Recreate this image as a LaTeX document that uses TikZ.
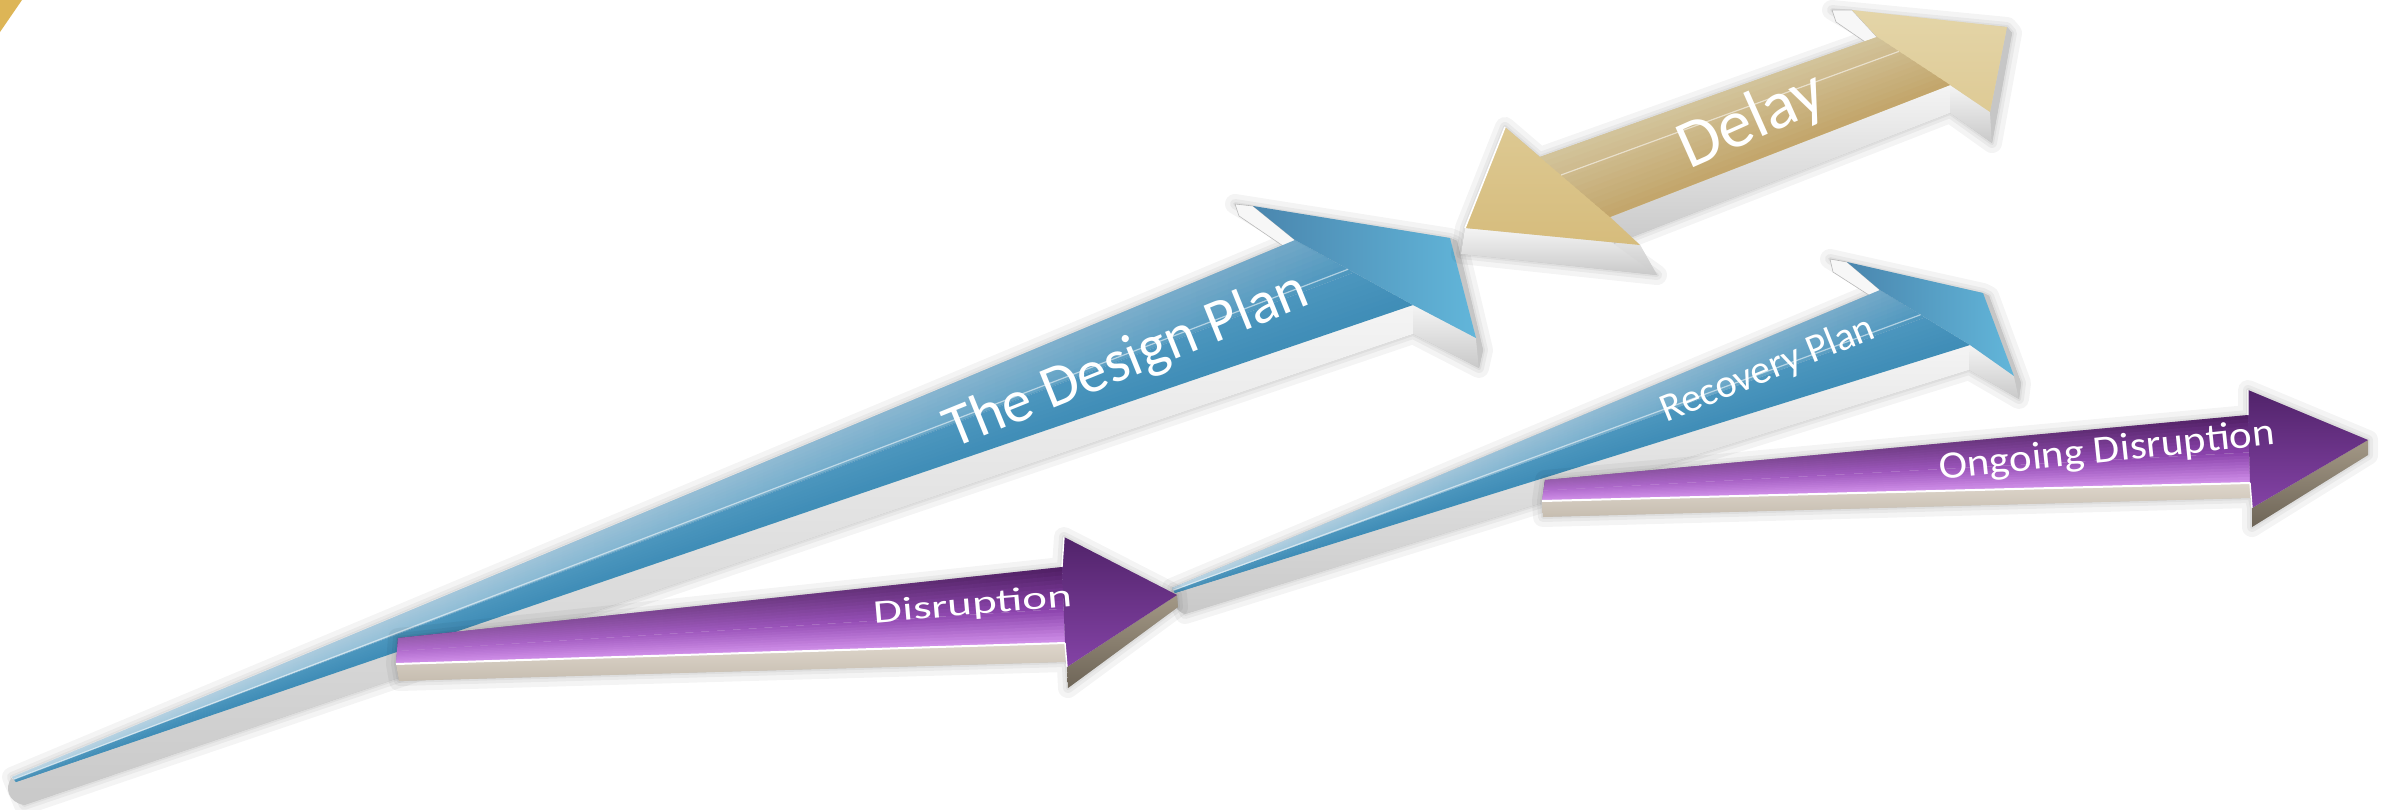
\documentclass[tikz,border=0pt]{standalone}
\usepackage{fontspec}
\setmainfont{Carlito}
\usetikzlibrary{calc,fadings}

\definecolor{bTop}{HTML}{6FA6C6}
\definecolor{bMid}{HTML}{4C96BE}
\definecolor{bBot}{HTML}{3F8DB7}
\definecolor{bHeadA}{HTML}{4A86AE}
\definecolor{bHeadB}{HTML}{62B6DA}
\definecolor{sideA}{HTML}{F4F4F4}
\definecolor{sideB}{HTML}{C9C9C9}
\definecolor{gTop}{HTML}{D3C49C}
\definecolor{gBot}{HTML}{C2A56A}
\definecolor{gLight}{HTML}{E4D5A8}
\definecolor{gDark}{HTML}{D6BC7C}
\definecolor{gCorner}{HTML}{DDB556}
\definecolor{pDark}{HTML}{4E1E62}
\definecolor{pMid}{HTML}{8A42AC}
\definecolor{pLight}{HTML}{D291EA}
\definecolor{pHeadA}{HTML}{51236A}
\definecolor{pHeadB}{HTML}{8443A6}
\definecolor{beigeA}{HTML}{DED6CB}
\definecolor{beigeB}{HTML}{C6BDB0}
\definecolor{taupeA}{HTML}{A39886}
\definecolor{taupeB}{HTML}{6E6557}

\tikzset{
  lbl/.style={text=white, inner sep=0pt, anchor=center},
  sidegray/.style={top color=sideA, bottom color=sideB},
  beigeside/.style={top color=beigeA, bottom color=beigeB},
  taupeside/.style={top color=taupeA, bottom color=taupeB},
  rim/.style={fill=gray!45},
  backface/.style={fill=white!94!gray, draw=gray!55, line width=0.3pt},
  hiline/.style={white, opacity=0.55, line width=0.6pt},
}

% cross-gradient bands between edge U0-U1 and edge L0-L1
\newcommand{\bandfill}[7]{%
  \foreach \k in {1,...,#7}{%
    \pgfmathsetmacro{\ta}{(\k-1)/#7}%
    \pgfmathsetmacro{\tb}{min(1,(\k+0.5)/#7)}%
    \pgfmathtruncatemacro{\pc}{round(100-100*(\k-0.5)/#7)}%
    \fill[#5!\pc!#6] ($(#1)!\ta!(#3)$) -- ($(#2)!\ta!(#4)$) -- ($(#2)!\tb!(#4)$) -- ($(#1)!\tb!(#3)$) -- cycle;
  }}

\newcommand{\softshadow}[2]{%
  \begin{scope}[shift={#1}]
    \foreach \w in {10,5,2}{%
      \filldraw[black, opacity=0.045, line width=\w*1pt, line join=round] #2;
    }
  \end{scope}}

\begin{document}
\begin{tikzpicture}[x=0.5pt,y=-0.5pt]
\useasboundingbox (0,0) rectangle (2384,809);
\fill[white] (0,0) rectangle (2384,809);

% ---------------- coordinates ----------------
% Design Plan
\coordinate (dT) at (12,777);
\coordinate (dTl) at (16,782);
\coordinate (dNu) at (1295,240);
\coordinate (dBu) at (1253,206);
\coordinate (dBw) at (1235,204);
\coordinate (dTip) at (1450,238);
\coordinate (dTipS) at (1457,241);
\coordinate (dBl) at (1476,338);
\coordinate (dBlr) at (1483,350);
\coordinate (dNl) at (1413,305);
\coordinate (dNls) at (1413,334);
\coordinate (dBls) at (1479,368);
\coordinate (dTs) at (24,805);
\coordinate (dBk) at (1289,250);
\coordinate (dBk2) at (1239,216);
\coordinate (dM0) at ($(dT)!0.5!(dTl)$);
\coordinate (dM1) at ($(dNu)!0.5!(dNl)$);
% Recovery Plan
\coordinate (rT) at (1172,588);
\coordinate (rTl) at (1175,593);
\coordinate (rNu) at (1880,290);
\coordinate (rBu) at (1847,262);
\coordinate (rBw) at (1830,259);
\coordinate (rTip) at (1983,293);
\coordinate (rTipS) at (1989,296);
\coordinate (rBl) at (2014,376);
\coordinate (rBlr) at (2021,383);
\coordinate (rNl) at (1970,345);
\coordinate (rNls) at (1969,370);
\coordinate (rBls) at (2019,399);
\coordinate (rTs) at (1185,614);
\coordinate (rBk) at (1875,299);
\coordinate (rBk2) at (1833,272);
\coordinate (rM0) at ($(rT)!0.5!(rTl)$);
\coordinate (rM1) at ($(rNu)!0.5!(rNl)$);
% Delay
\coordinate (yL) at (1465,228);
\coordinate (yLs) at (1461,254);
\coordinate (yBu1) at (1505,127);
\coordinate (yNu1) at (1540,157);
\coordinate (yNu2) at (1877,37);
\coordinate (yBu2) at (1852,10);
\coordinate (yBw2) at (1832,10);
\coordinate (yR) at (2007,27);
\coordinate (yRs) at (2012,33);
\coordinate (yBl2) at (1990,112);
\coordinate (yBl2s) at (1992,143);
\coordinate (yNl2) at (1950,85);
\coordinate (yNl2s) at (1950,113);
\coordinate (yNl1) at (1610,217);
\coordinate (yNl1s) at (1614,244);
\coordinate (yBl1) at (1640,245);
\coordinate (yBl1s) at (1657,275);
\coordinate (yBk) at (1871,46);
\coordinate (yBk2) at (1836,22);
% Disruption
\coordinate (pT) at (398,638);
\coordinate (pTl) at (396,664);
\coordinate (pTls) at (399,681);
\coordinate (pNu) at (1062,567);
\coordinate (pBu) at (1064,537);
\coordinate (pTip) at (1177,595);
\coordinate (pTips) at (1178,607);
\coordinate (pBl) at (1067,667);
\coordinate (pBls) at (1068,688);
\coordinate (pNl) at (1065,643);
\coordinate (pNls) at (1065,662);
\coordinate (pM0) at ($(pT)!0.5!(pTl)$);
\coordinate (pM1) at ($(pNu)!0.55!(pNl)$);
% Ongoing Disruption
\coordinate (oT) at (1545,480);
\coordinate (oTl) at (1542,501);
\coordinate (oTls) at (1543,517);
\coordinate (oNu) at (2248,415);
\coordinate (oBu) at (2248,390);
\coordinate (oTip) at (2368,440);
\coordinate (oTips) at (2368,455);
\coordinate (oBl) at (2252,508);
\coordinate (oBls) at (2252,527);
\coordinate (oNl) at (2250,483);
\coordinate (oNls) at (2250,498);
\coordinate (oM0) at ($(oT)!0.5!(oTl)$);
\coordinate (oM1) at ($(oNu)!0.55!(oNl)$);

% ---------------- corner sliver ----------------
\fill[gCorner] (0,0) -- (22,0) -- (0,32) -- cycle;

% ---------------- The Design Plan ----------------
\softshadow{(0,24)}{(dT)--(dNu)--(dBw)--(dTip)--(dTipS)--(dBlr)--(dBls)--(dNls)--(dTs)--cycle}
\shade[sidegray] (dT)--(dNl)--(dNls)--(dTs) .. controls (8,802) and (4,788) .. (dT) -- cycle;
\shade[sidegray] (dNl)--(dBl)--(dBls)--(dNls)--cycle;
\fill[rim] (dTip)--(dTipS)--(dBlr)--(dBls)--(dBl)--cycle;
\fill[backface] (dBw)--(dBu)--(dNu)--(dBk)--(dBk2)--cycle;
\bandfill{dT}{dNu}{dM0}{dM1}{bTop}{bMid}{10}
\bandfill{dM0}{dM1}{dTl}{dNl}{bMid}{bBot}{10}
\fill[white, opacity=0.55, path fading=east] (dT)--(dNu)--(dM1)--(dM0)--cycle;
\shade[left color=bHeadA, right color=bHeadB] (dNu)--(dBu)--(dTip)--(dBl)--(dNl)--cycle;
\draw[hiline] ($(dT)!0.45!(dTl)$) -- ($(dNu)!0.45!(dNl)$);
\node[lbl, font=\fontsize{30}{30}\selectfont, rotate=22] (tDesign) at (1127,362) {The Design Plan};

% ---------------- Delay ----------------
\softshadow{(0,24)}{(yL)--(yBu1)--(yNu1)--(yNu2)--(yBw2)--(yR)--(yRs)--(yBl2s)--(yNl2s)--(yNl1s)--(yBl1s)--(yLs)--cycle}
\shade[sidegray] (yL)--(yBl1)--(yBl1s)--(yLs)--cycle;
\shade[sidegray] (yNl1)--(yBl1)--(yBl1s)--(yNl1s)--cycle;
\shade[sidegray] (yNl1)--(yNl2)--(yNl2s)--(yNl1s)--cycle;
\shade[sidegray] (yNl2)--(yBl2)--(yBl2s)--(yNl2s)--cycle;
\fill[rim] (yR)--(yRs)--(yBl2s)--(yBl2)--cycle;
\fill[backface] (yBw2)--(yBu2)--(yNu2)--(yBk)--(yBk2)--cycle;
\shade[top color=gLight, bottom color=gDark] (yL)--(yBu1)--(yNu1)--(yNu2)--(yBu2)--(yR)--(yBl2)--(yNl2)--(yNl1)--(yBl1)--cycle;
\bandfill{yNu1}{yNu2}{yNl1}{yNl2}{gTop}{gBot}{14}
\draw[hiline] ($(yNu1)!0.3!(yNl1)$) -- ($(yNu2)!0.3!(yNl2)$);
\draw[white, line width=0.8pt] (yL)--(yBu1);
\node[lbl, font=\fontsize{34}{34}\selectfont, rotate=24] (tDelay) at (1752,122) {Delay};

% ---------------- Recovery Plan ----------------
\softshadow{(0,24)}{(rT)--(rNu)--(rBw)--(rTip)--(rTipS)--(rBlr)--(rBls)--(rNls)--(rTs)--cycle}
\shade[sidegray] (rT)--(rNl)--(rNls)--(rTs) .. controls (1176,612) and (1169,598) .. (rT) -- cycle;
\shade[sidegray] (rNl)--(rBl)--(rBls)--(rNls)--cycle;
\fill[rim] (rTip)--(rTipS)--(rBlr)--(rBls)--(rBl)--cycle;
\fill[backface] (rBw)--(rBu)--(rNu)--(rBk)--(rBk2)--cycle;
\bandfill{rT}{rNu}{rM0}{rM1}{bTop}{bMid}{10}
\bandfill{rM0}{rM1}{rTl}{rNl}{bMid}{bBot}{10}
\fill[white, opacity=0.55, path fading=east] (rT)--(rNu)--(rM1)--(rM0)--cycle;
\shade[left color=bHeadA, right color=bHeadB] (rNu)--(rBu)--(rTip)--(rBl)--(rNl)--cycle;
\draw[hiline] ($(rT)!0.45!(rTl)$) -- ($(rNu)!0.45!(rNl)$);
\node[lbl, font=\fontsize{20}{20}\selectfont, rotate=22] (tRecovery) at (1768,370) {Recovery Plan};

% ---------------- Disruption ----------------
\softshadow{(0,18)}{(pT)--(pNu)--(pBu)--(pTip)--(pTips)--(pBls)--(pBl)--(pNls)--(pTls)--(pTl)--cycle}
\shade[beigeside] (pTl)--(pNl)--(pNls)--(pTls)--cycle;
\shade[taupeside] (pBl)--(pTip)--(pTips)--(pBls)--cycle;
\bandfill{pT}{pNu}{pM0}{pM1}{pDark}{pMid}{10}
\bandfill{pM0}{pM1}{pTl}{pNl}{pMid}{pLight}{10}
\fill[pLight, opacity=0.55, path fading=east] (pT)--(pNu)--(pNl)--(pTl)--cycle;
\shade[top color=pHeadA, bottom color=pHeadB] (pNu)--(pBu)--(pTip)--(pBl)--(pNl)--cycle;
\draw[white, line width=1pt] (pTl)--(pNl);
\draw[white, line width=0.7pt] (pNu)--(pBu) (pNl)--(pBl);
\node[lbl, font=\fontsize{16.5}{16.5}\selectfont, rotate=5, xscale=1.42] (tDisruption) at (973,606) {Disruption};

% ---------------- Ongoing Disruption ----------------
\softshadow{(0,18)}{(oT)--(oNu)--(oBu)--(oTip)--(oTips)--(oBls)--(oBl)--(oNls)--(oTls)--(oTl)--cycle}
\shade[beigeside] (oTl)--(oNl)--(oNls)--(oTls)--cycle;
\shade[taupeside] (oBl)--(oTip)--(oTips)--(oBls)--cycle;
\bandfill{oT}{oNu}{oM0}{oM1}{pDark}{pMid}{10}
\bandfill{oM0}{oM1}{oTl}{oNl}{pMid}{pLight}{10}
\fill[pLight, opacity=0.55, path fading=east] (oT)--(oNu)--(oNl)--(oTl)--cycle;
\shade[top color=pHeadA, bottom color=pHeadB] (oNu)--(oBu)--(oTip)--(oBl)--(oNl)--cycle;
\draw[white, line width=1pt] (oTl)--(oNl);
\draw[white, line width=0.7pt] (oNu)--(oBu) (oNl)--(oBl);
\node[lbl, font=\fontsize{19.5}{19.5}\selectfont, rotate=6, xscale=1.1] (tOngoing) at (2107,452) {Ongoing Disruption};

\end{tikzpicture}
\end{document}
